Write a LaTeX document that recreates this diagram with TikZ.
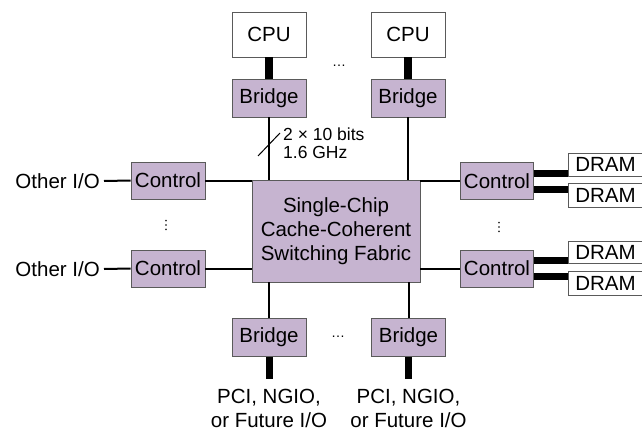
\documentclass[tikz,border=0pt]{standalone}
\usepackage{fontspec}
\usepackage{tikz}
\setmainfont{Liberation Sans}
\definecolor{chipfill}{RGB}{198,180,208}
\definecolor{chipedge}{RGB}{90,90,90}
\tikzstyle{chipbox} = [draw=chipedge, fill=chipfill, line width=0.9pt,
rectangle, inner sep=0pt, minimum width=74pt, minimum height=38pt]
\tikzstyle{plainbox} = [draw=chipedge, fill=white, line width=0.9pt,
rectangle, inner sep=0pt, minimum width=74pt]
\tikzstyle{thinline} = [line width=2pt]
\tikzstyle{fatline} = [line width=7pt]
\tikzstyle{dots} = [font=\fontsize{14}{14}\selectfont]

\begin{document}
\begin{tikzpicture}[x=1pt, y=-1pt, font=\fontsize{20.5}{24}\selectfont]
        \useasboundingbox (0,0) rectangle (642,433);
        % processors on top
        \node [plainbox, minimum height=45pt] (cpu1) at (269,34.5) {CPU};
        \node [plainbox, minimum height=45pt] (cpu2) at (408,34.5) {CPU};
        \node [chipbox] (topbr1) at (269,98) {Bridge};
        \node [chipbox] (topbr2) at (408,98) {Bridge};
        \node [dots] (topdots) at (339,66) {\dots};
        % the fabric
        \node [chipbox, minimum width=168pt, minimum height=102pt, align=center] (fabric) at (336,231)
            {Single-Chip\\Cache-Coherent\\Switching Fabric};
        % left side
        \node [chipbox, minimum height=37pt] (ctlL1) at (168,180.5) {Control};
        \node [chipbox, minimum height=37pt] (ctlL2) at (168,268.5) {Control};
        \node [anchor=east, inner sep=0pt] (oio1) at (100,181) {Other I/O};
        \node [anchor=east, inner sep=0pt] (oio2) at (100,269) {Other I/O};
        \node [dots, rotate=90] (leftdots) at (166,225) {\dots};
        % right side
        \node [chipbox, minimum width=73pt, minimum height=37pt] (ctlR1) at (497,181) {Control};
        \node [chipbox, minimum width=73pt, minimum height=37pt] (ctlR2) at (497,268.5) {Control};
        \node [dots, rotate=90] (rightdots) at (499,227) {\dots};
        \node [plainbox, anchor=west, minimum height=23pt] (dram1) at (568,164.5) {DRAM};
        \node [plainbox, anchor=west, minimum height=24pt] (dram2) at (568,195) {DRAM};
        \node [plainbox, anchor=west, minimum height=22pt] (dram3) at (568,252.5) {DRAM};
        \node [plainbox, anchor=west, minimum height=24pt] (dram4) at (568,283) {DRAM};
        % bottom
        \node [chipbox] (botbr1) at (269,337.5) {Bridge};
        \node [chipbox] (botbr2) at (408.5,337.5) {Bridge};
        \node [dots] (botdots) at (338,337) {\dots};
        \node [align=center, inner sep=0pt, anchor=north] (pci1) at (269,389) {PCI, NGIO,\\or Future I/O};
        \node [align=center, inner sep=0pt, anchor=north] (pci2) at (408.5,389) {PCI, NGIO,\\or Future I/O};
        \coordinate (pin1) at (269,379);
        \coordinate (pin2) at (408.5,379);
        % link label
        \node [align=left, anchor=west, inner sep=0pt, font=\fontsize{17.5}{18}\selectfont] (linklbl) at (283,143)
            {2 × 10 bits\\1.6 GHz};
        \coordinate (slashA) at (258,156);
        \coordinate (slashB) at (280,133);

        % connectors
        \draw [fatline, line width=8.5pt] (cpu1) -- (topbr1);
        \draw [fatline, line width=8.5pt] (cpu2) -- (topbr2);
        \draw [thinline] (topbr1) -- (topbr1 |- fabric.north);
        \draw [thinline] (topbr2) -- (topbr2 |- fabric.north);
        \draw [thinline] (botbr1) -- (botbr1 |- fabric.south);
        \draw [thinline] (botbr2) -- (botbr2 |- fabric.south);
        \draw [fatline] (botbr1) -- (pin1);
        \draw [fatline] (botbr2) -- (pin2);
        \draw [thinline] (ctlL1) -- (ctlL1 -| fabric.west);
        \draw [thinline] (ctlL2) -- (ctlL2 -| fabric.west);
        \draw [thinline] (ctlR1) -- (ctlR1 -| fabric.east);
        \draw [thinline] (ctlR2) -- (ctlR2 -| fabric.east);
        \draw [thinline] ([xshift=4pt]oio1.east) -- (ctlL1.west);
        \draw [thinline] ([xshift=4pt]oio2.east) -- (ctlL2.west);
        \draw [fatline] ([yshift=8pt]ctlR1.east) -- ([yshift=8pt]ctlR1.east -| dram1.west);
        \draw [fatline] ([yshift=-8pt]ctlR1.east) -- ([yshift=-8pt]ctlR1.east -| dram2.west);
        \draw [fatline] ([yshift=8pt]ctlR2.east) -- ([yshift=8pt]ctlR2.east -| dram3.west);
        \draw [fatline] ([yshift=-8pt]ctlR2.east) -- ([yshift=-8pt]ctlR2.east -| dram4.west);
        \draw [line width=1pt] (slashA) -- (slashB);
    \end{tikzpicture}
\end{document}
